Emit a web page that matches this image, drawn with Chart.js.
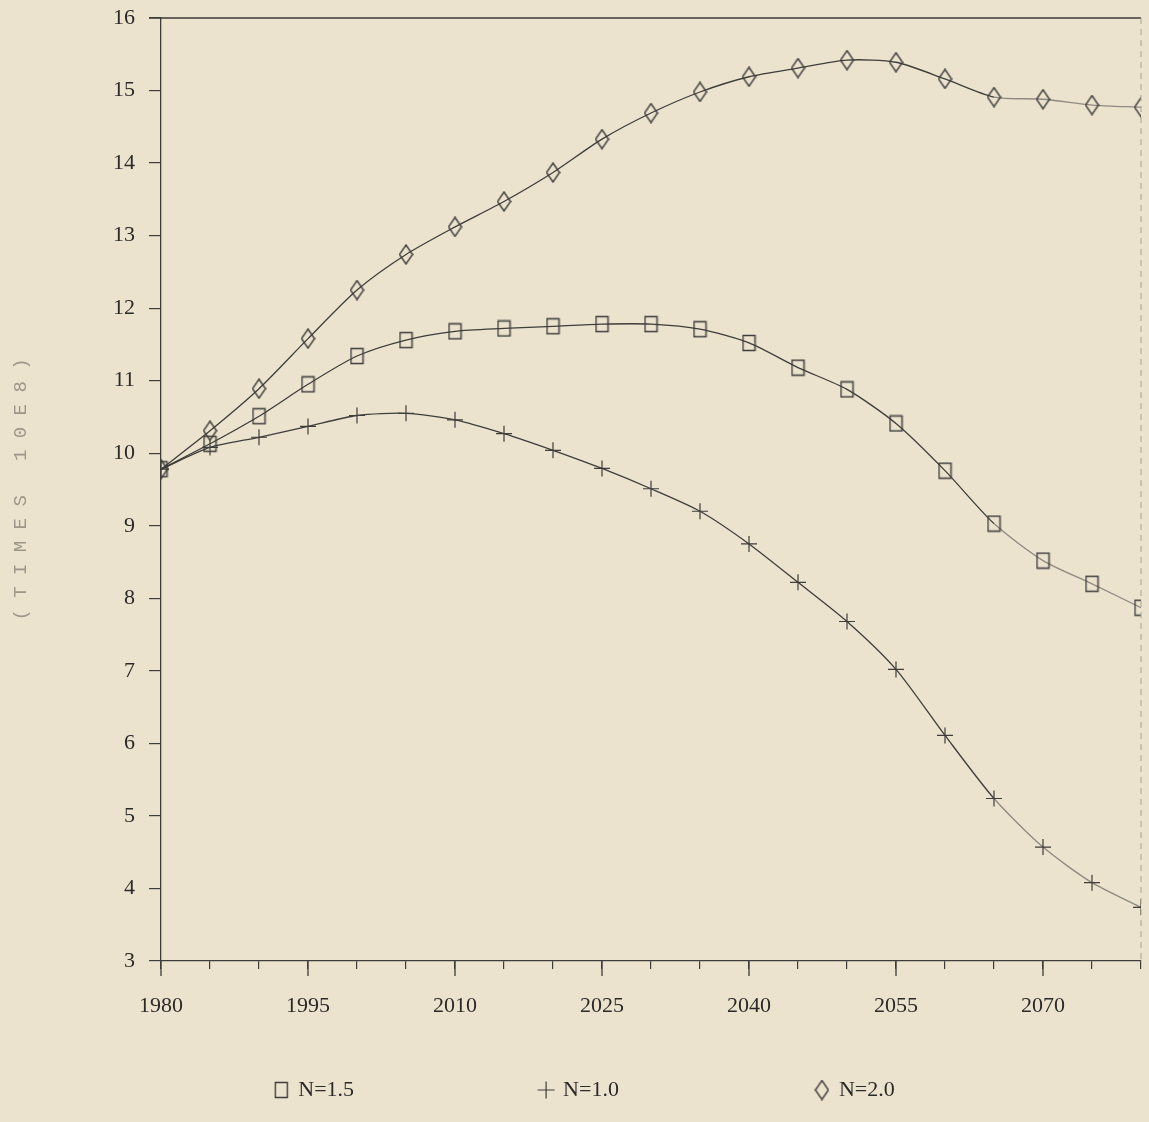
<!DOCTYPE html>
<html>
<head>
<meta charset="utf-8">
<script src="https://cdn.jsdelivr.net/npm/chart.js@4.4.1/dist/chart.umd.min.js"></script>
<style>
  html, body { margin: 0; padding: 0; background: #ece3cf; }
  #wrap { width: 1149px; height: 1122px; position: relative; }
</style>
</head>
<body>
<div id="wrap"><canvas id="chart"></canvas></div>
<script>
// years sampled every 5 years
const years = [1980, 1985, 1990, 1995, 2000, 2005, 2010, 2015, 2020, 2025, 2030,
  2035, 2040, 2045, 2050, 2055, 2060, 2065, 2070, 2075, 2080];

// population (times 10E8) for each fertility scenario
const n15 = [9.78, 10.13, 10.51, 10.95, 11.34, 11.56, 11.68, 11.72, 11.75, 11.78, 11.78,
  11.71, 11.52, 11.18, 10.88, 10.41, 9.76, 9.03, 8.52, 8.20, 7.87];
const n10 = [9.78, 10.08, 10.22, 10.37, 10.52, 10.55, 10.46, 10.27, 10.04, 9.79, 9.51,
  9.20, 8.75, 8.22, 7.68, 7.02, 6.11, 5.24, 4.57, 4.08, 3.74];
const n20 = [9.78, 10.31, 10.89, 11.58, 12.25, 12.74, 13.12, 13.47, 13.87, 14.33, 14.69,
  14.98, 15.19, 15.31, 15.42, 15.39, 15.16, 14.91, 14.88, 14.80, 14.77];

const labelYears = [1980, 1995, 2010, 2025, 2040, 2055, 2070];

const INK = '#3e3d3a';
const FADED = '#8f8a80';
const SERIF = '"Liberation Serif", "DejaVu Serif", serif';

// tall hollow markers, like the plotter's glyphs
function marker(w, h, draw) {
  const c = document.createElement('canvas');
  c.width = w;
  c.height = h;
  const g = c.getContext('2d');
  g.strokeStyle = INK;
  g.lineWidth = 1.4;
  g.beginPath();
  draw(g, w, h);
  g.stroke();
  return c;
}
const squareMark = marker(15, 18, (g, w, h) => g.rect(1.5, 1.5, w - 3, h - 3));
const diamondMark = marker(15, 21, (g, w, h) => {
  g.moveTo(w / 2, 1);
  g.lineTo(w - 1, h / 2);
  g.lineTo(w / 2, h - 1);
  g.lineTo(1, h / 2);
  g.closePath();
});

function makeSet(label, values, style, radius) {
  return {
    label,
    data: years.map((y, i) => ({ x: y, y: values[i] })),
    borderColor: INK,
    backgroundColor: 'rgba(0,0,0,0)',
    borderWidth: 1.3,
    pointStyle: style,
    pointRadius: radius,
    pointBorderColor: INK,
    pointBorderWidth: 1.2,
    pointBackgroundColor: 'rgba(0,0,0,0)',
    tension: 0.25,
    segment: {
      borderColor: (c) => (c.p0.parsed.x >= 2065 ? FADED : INK),
    },
  };
}

// long ticks at labelled years, and the frame top/right
const frame = {
  id: 'frame',
  afterDraw(chart) {
    const { ctx, chartArea: a, scales } = chart;
    ctx.save();
    ctx.strokeStyle = INK;
    ctx.lineWidth = 1.3;
    ctx.beginPath();
    labelYears.forEach((y) => {
      const px = scales.x.getPixelForValue(y);
      ctx.moveTo(px, a.bottom);
      ctx.lineTo(px, a.bottom + 15);
    });
    ctx.moveTo(a.left - 12, a.top);
    ctx.lineTo(a.right, a.top);
    ctx.stroke();
    ctx.strokeStyle = '#a8a294';
    ctx.lineWidth = 1;
    ctx.setLineDash([6, 5]);
    ctx.beginPath();
    ctx.moveTo(a.right, a.top);
    ctx.lineTo(a.right, a.bottom);
    ctx.stroke();
    ctx.restore();
  },
};

// trailing spaces spread the legend items apart without growing its height
const legendGaps = [32, 34, 24];

new Chart(document.getElementById('chart'), {
  type: 'line',
  data: {
    datasets: [
      makeSet('N=1.5', n15, squareMark, 10),
      makeSet('N=1.0', n10, 'cross', 8),
      makeSet('N=2.0', n20, diamondMark, 8),
    ],
  },
  options: {
    responsive: true,
    maintainAspectRatio: false,
    animation: false,
    layout: { autoPadding: false, padding: { top: 18, right: 8, bottom: 11, left: 0 } },
    plugins: {
      tooltip: { enabled: false },
      legend: {
        position: 'bottom',
        fullSize: false,
        labels: {
          usePointStyle: true,
          boxWidth: 12,
          boxHeight: 12,
          padding: 10,
          color: '#2b2a27',
          font: { family: SERIF, size: 22 },
          generateLabels: (chart) => {
            const items = Chart.defaults.plugins.legend.labels.generateLabels(chart);
            items.forEach((it, i) => { it.text += ' '.repeat(legendGaps[i]); });
            return items;
          },
        },
      },
    },
    scales: {
      x: {
        type: 'linear',
        min: 1980,
        max: 2080,
        afterFit: (s) => {
          s.height = 108;
          s.paddingLeft = 0;
          s.paddingRight = 0;
        },
        border: { color: INK, width: 1.3 },
        grid: { drawOnChartArea: false, tickLength: 8, color: INK, lineWidth: 1.2 },
        ticks: {
          stepSize: 5,
          padding: 24,
          autoSkip: false,
          maxRotation: 0,
          color: '#2b2a27',
          font: { family: SERIF, size: 22 },
          callback: (v) => (labelYears.includes(v) ? String(v) : ''),
        },
      },
      y: {
        min: 3,
        max: 16,
        afterFit: (s) => {
          s.width = 161;
          s.paddingTop = 0;
          s.paddingBottom = 0;
        },
        border: { color: INK, width: 1.3 },
        grid: { drawOnChartArea: false, tickLength: 12, color: INK, lineWidth: 1.2 },
        ticks: {
          stepSize: 1,
          padding: 14,
          color: '#2b2a27',
          font: { family: SERIF, size: 22 },
        },
        title: {
          display: true,
          text: '( T I M E S   1 0 E 8 )',
          color: '#9d978a',
          padding: { top: 10, bottom: 0 },
          font: { family: '"Liberation Mono", "DejaVu Sans Mono", monospace', size: 19 },
        },
      },
    },
  },
  plugins: [frame],
});
</script>
</body>
</html>
